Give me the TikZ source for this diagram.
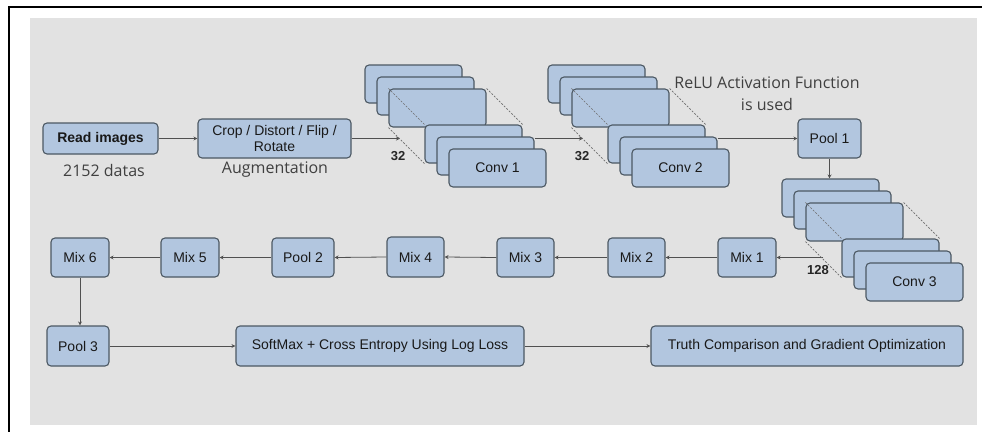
\documentclass[tikz,border=0pt]{standalone}
\usepackage{fontspec}
\setmainfont{Liberation Sans}
\newfontfamily\opensans{Open Sans}
\usetikzlibrary{arrows.meta}
\definecolor{bgray}{HTML}{E2E2E2}
\definecolor{boxfill}{HTML}{B2C6DF}
\definecolor{boxdraw}{HTML}{4C5863}
\definecolor{linec}{HTML}{505050}
\definecolor{dashc}{HTML}{6E6E6E}
\pgfdeclarelayer{bgl}
\pgfdeclarelayer{lines}
\pgfsetlayers{bgl,lines,main}
\newcommand\bx[6]{\node[box,minimum width={(#4-#2)*1pt},minimum height={(#5-#3)*1pt}] (#1) at ({(#2+#4)/2},{(#3+#5)/2}) {#6};}
\newcommand\cstack[4]{%
  \node[sbox] (#1a) at ({#2+48.5},{#3+19}) {};
  \node[sbox] (#1b) at ({#2+60.5},{#3+31}) {};
  \node[sbox] (#1c) at ({#2+72.5},{#3+43}) {};
  \node[sbox] (#1d) at ({#2+108.5},{#3+79}) {};
  \node[sbox] (#1e) at ({#2+120.5},{#3+91}) {};
  \node[sbox] (#1f) at ({#2+132.5},{#3+103}) {#4};
  \draw[dline] (#1c.north west) -- (#1d.north west);
  \draw[dline] (#1c.north east) -- (#1d.north east);
  \draw[dline] (#1c.south west) -- (#1d.south west);
}
\begin{document}
\begin{tikzpicture}[x=1pt,y=-1pt,
  box/.style={draw=boxdraw,fill=boxfill,line width=1.1pt,rounded corners=4pt,inner sep=0pt,align=center,font=\fontsize{14}{16}\selectfont,text=black!90},
  sbox/.style={box,minimum width=97pt,minimum height=38pt},
  conn/.style={draw=linec,line width=0.8pt,-{Stealth[length=4pt,width=4pt]}},
  dline/.style={draw=dashc,line width=0.6pt,dash pattern=on 2pt off 1.5pt},
  lab/.style={font=\opensans\fontsize{16}{22}\selectfont,text=black!75,align=center},
  num/.style={font=\bfseries\fontsize{13}{15}\selectfont,text=black!85}]
\useasboundingbox (0,0) rectangle (982,431);
\begin{pgfonlayer}{bgl}
  \fill[bgray] (30,18) rectangle (977,425);
  \draw[line width=2.5pt] (9,440) -- (9,7) -- (990,7);
\end{pgfonlayer}

\bx{read}{43}{123}{158}{154}{\bfseries Read images}
\bx{crop}{198}{119}{351}{158}{Crop / Distort / Flip /\\Rotate}
\bx{pool1}{798}{119}{861}{158}{Pool 1}
\bx{mix6}{51}{238}{109}{277}{Mix 6}
\bx{mix5}{161}{238}{219}{277}{Mix 5}
\bx{pool2}{272}{238}{334}{277}{Pool 2}
\bx{mix4}{387}{237}{444}{277}{Mix 4}
\bx{mix3}{497}{238}{554}{277}{Mix 3}
\bx{mix2}{608}{238}{665}{277}{Mix 2}
\bx{mix1}{718}{238}{776}{277}{Mix 1}
\bx{pool3}{47}{326}{109}{366}{Pool 3}
\bx{soft}{236}{326}{524}{366}{SoftMax + Cross Entropy Using Log Loss}
\bx{truth}{651}{326}{963}{366}{Truth Comparison and Gradient Optimization}

\cstack{ca}{365}{65}{Conv 1}
\cstack{cb}{548}{65}{Conv 2}
\cstack{cc}{782}{179}{Conv 3}

\node[lab] (l2152) at (104,170) {2152 datas};
\node[lab] (laug) at (275,170) {Augmentation};
\node[lab] (relu) at (767,94) {ReLU Activation Function\\is used};
\node[num] (n32a) at (398,156) {32};
\node[num] (n32b) at (582,156) {32};
\node[num] (n128) at (818,270) {128};

\coordinate (c1in) at (400,138.5);
\coordinate (c2in) at (583,138.5);
\coordinate (c3out) at (823,257.5);

\begin{pgfonlayer}{lines}
  \draw[conn] (read.east) -- (crop.west);
  \draw[conn] (crop.east) -- (c1in);
  \draw[conn] (cae.east |- c1in) -- (c2in);
  \draw[conn] (cbe.east |- c2in) -- (pool1.west);
  \draw[conn] (pool1.south) -- (pool1.south |- cca.north);
  \draw[conn] (c3out) -- (mix1.east);
  \draw[conn] (mix1.west) -- (mix2.east);
  \draw[conn] (mix2.west) -- (mix3.east);
  \draw[conn] (mix3.west) -- (mix4.east);
  \draw[conn] (mix4.west) -- (pool2.east);
  \draw[conn] (pool2.west) -- (mix5.east);
  \draw[conn] (mix5.west) -- (mix6.east);
  \draw[conn] (mix6.south) -- (mix6.south |- pool3.north);
  \draw[conn] (pool3.east) -- (soft.west);
  \draw[conn] (soft.east) -- (truth.west);
\end{pgfonlayer}
\end{tikzpicture}
\end{document}
